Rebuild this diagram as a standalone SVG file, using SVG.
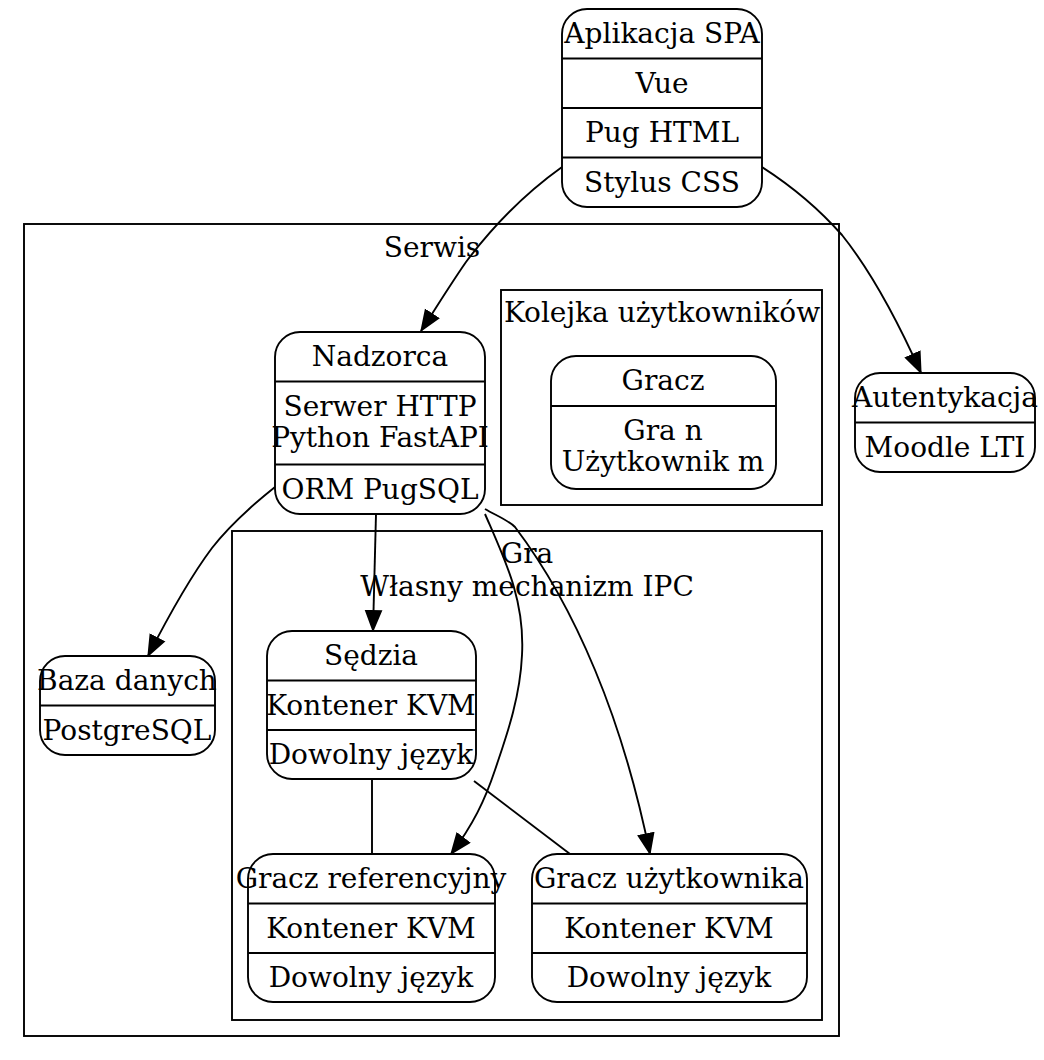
<svg xmlns="http://www.w3.org/2000/svg" width="1044" height="1060" viewBox="0 0 1044 1060">
<defs>
<marker id="arr" markerUnits="userSpaceOnUse" markerWidth="24" markerHeight="20" refX="21" refY="9" orient="auto"><path d="M1,1.5 L20,9 L1,16.5 z" fill="#000" stroke="#000" stroke-width="1.9"/></marker>
<style>
text{font-family:"DejaVu Serif","Liberation Serif",serif;font-size:28px;fill:#000;text-anchor:middle}
.b{fill:#fff;stroke:#000;stroke-width:1.9}
.c{fill:none;stroke:#000;stroke-width:1.9}
.e{fill:none;stroke:#000;stroke-width:1.9}
.a{marker-end:url(#arr)}
</style>
</defs>
<rect width="1044" height="1060" fill="#fff"/>
<g id="cluster-serwis"><rect class="c" x="24" y="224" width="815" height="812"/><text x="432" y="257">Serwis</text></g>
<g id="cluster-kolejka"><rect class="c" x="501" y="290" width="321" height="215"/><text x="662" y="322">Kolejka użytkowników</text></g>
<g id="cluster-gra"><rect class="c" x="232" y="531" width="590" height="489"/><text x="527" y="563">Gra</text><text x="527" y="596">Własny mechanizm IPC</text></g>
<g id="connectors">
<path class="e a" d="M562,167 C520,197 490,230 466,262 C450,285 436,308 421,331"/>
<path class="e a" d="M762,167 C790,185 820,210 842,235 C870,270 895,315 921,373"/>
<path class="e a" d="M275,487 C255,503 230,525 212,548 C188,580 168,617 148,656"/>
<path class="e a" d="M376,514 L373,631"/>
<path class="e a" d="M485,509 C495,515 508,520 515,527 C540,560 570,610 595,670 C620,730 637,790 650,854"/>
<path class="e a" d="M485,514 C505,560 525,600 522,655 C520,700 505,740 495,770 C485,800 473,825 451,854"/>
<path class="e" d="M372,779 L372,854"/>
<path class="e" d="M474,781 L570,854"/>
</g>
<g id="spa"><rect class="b" x="562" y="9" width="200" height="198" rx="25"/><path class="e" d="M562,58.5H762M562,108H762M562,157.5H762"/><text x="662" y="43">Aplikacja SPA</text><text x="662" y="93">Vue</text><text x="662" y="142">Pug HTML</text><text x="662" y="192">Stylus CSS</text></g>
<g id="nadzorca"><rect class="b" x="275" y="332" width="210" height="182" rx="25"/><path class="e" d="M275,381.5H485M275,464.5H485"/><text x="380" y="366">Nadzorca</text><text x="380" y="416">Serwer HTTP</text><text x="380" y="447">Python FastAPI</text><text x="380" y="499">ORM PugSQL</text></g>
<g id="gracz"><rect class="b" x="551" y="356" width="225" height="133" rx="25"/><path class="e" d="M551,406H776"/><text x="663" y="390">Gracz</text><text x="663" y="440">Gra n</text><text x="663" y="471">Użytkownik m</text></g>
<g id="autentykacja"><rect class="b" x="855" y="373" width="180" height="99" rx="25"/><path class="e" d="M855,422.5H1035"/><text x="945" y="407">Autentykacja</text><text x="945" y="457">Moodle LTI</text></g>
<g id="baza"><rect class="b" x="40" y="656" width="175" height="99" rx="25"/><path class="e" d="M40,705.5H215"/><text x="127" y="690">Baza danych</text><text x="127" y="740">PostgreSQL</text></g>
<g id="sedzia"><rect class="b" x="267" y="631" width="209" height="148" rx="25"/><path class="e" d="M267,680.5H476M267,730H476"/><text x="371" y="665">Sędzia</text><text x="371" y="715">Kontener KVM</text><text x="371" y="764">Dowolny język</text></g>
<g id="gracz-ref"><rect class="b" x="248" y="854" width="247" height="148" rx="25"/><path class="e" d="M248,903.5H495M248,953H495"/><text x="371" y="888">Gracz referencyjny</text><text x="371" y="938">Kontener KVM</text><text x="371" y="987">Dowolny język</text></g>
<g id="gracz-uzyt"><rect class="b" x="532" y="854" width="275" height="148" rx="25"/><path class="e" d="M532,903.5H807M532,953H807"/><text x="669" y="888">Gracz użytkownika</text><text x="669" y="938">Kontener KVM</text><text x="669" y="987">Dowolny język</text></g>
</svg>
